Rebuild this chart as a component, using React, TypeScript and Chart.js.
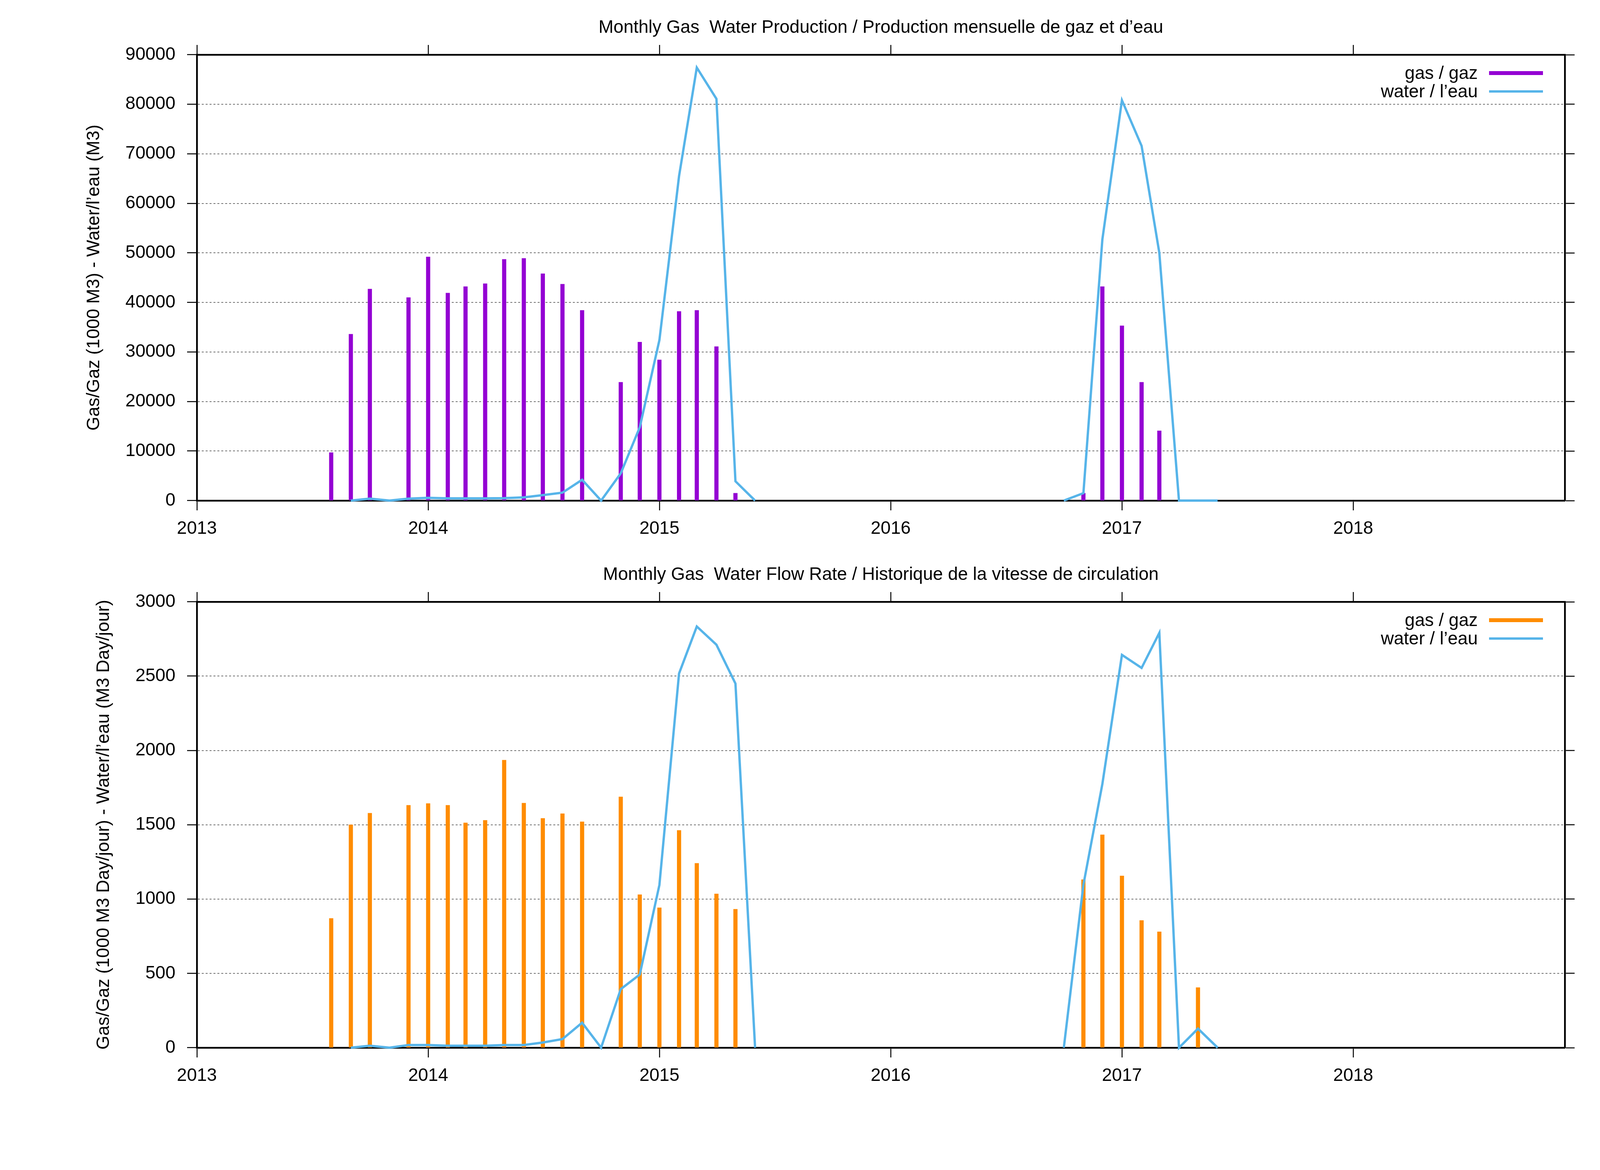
import React, { useEffect, useRef } from 'react';
import { Chart, registerables } from 'chart.js';

Chart.register(...registerables);

const FONT = "'Liberation Sans', Arial, sans-serif";
const FONT_SIZE = 46;

// months that appear in the well history (two production periods)
const months = [
  '2013-08', '2013-09', '2013-10', '2013-11', '2013-12',
  '2014-01', '2014-02', '2014-03', '2014-04', '2014-05', '2014-06',
  '2014-07', '2014-08', '2014-09', '2014-10', '2014-11', '2014-12',
  '2015-01', '2015-02', '2015-03', '2015-04', '2015-05', '2015-06',
  '2016-10', '2016-11', '2016-12',
  '2017-01', '2017-02', '2017-03', '2017-04', '2017-05', '2017-06',
];

// monthly production: gas (1000 m3), water (m3)
const gasProduction = [
  9700, 33600, 42700, null, 41000,
  49200, 41900, 43200, 43800, 48700, 48900,
  45800, 43700, 38400, null, 23900, 32000,
  28400, 38200, 38400, 31100, 1500, null,
  null, 1500, 43200,
  35300, 23900, 14100, null, null, null,
];
const waterProduction = [
  null, 0, 400, 0, 400,
  550, 450, 450, 450, 500, 650,
  1100, 1600, 4200, 0, 5500, 14800,
  32400, 65500, 87400, 81100, 3900, 0,
  0, 1500, 52700,
  80800, 71600, 50000, 0, 0, 0,
];

// monthly flow rate: gas (1000 m3/day), water (m3/day)
const gasRate = [
  870, 1500, 1578, null, 1631,
  1643, 1631, 1513, 1530, 1935, 1646,
  1543, 1575, 1520, null, 1688, 1030,
  942, 1462, 1241, 1035, 932, null,
  null, 1131, 1433,
  1156, 856, 780, null, 405, null,
];
const waterRate = [
  null, 0, 13, 0, 18,
  18, 13, 13, 13, 18, 18,
  35, 58, 168, 0, 394, 492,
  1095, 2518, 2834, 2711, 2450, 0,
  0, 1096, 1774,
  2643, 2555, 2791, 0, 128, 0,
];

const yearTicks = [2013, 2014, 2015, 2016, 2017, 2018];
const axisStart = '2013-01';
const axisEnd = '2018-12';

const productionTicks = [0, 10000, 20000, 30000, 40000, 50000, 60000, 70000, 80000, 90000];
const rateTicks = [0, 500, 1000, 1500, 2000, 2500, 3000];

const GAS_PURPLE = '#9400d3';
const GAS_ORANGE = '#ff8c00';
const WATER_BLUE = '#56b4e9';

const toYear = (m: string) => {
  const [y, mo] = m.split('-').map(Number);
  const start = Date.UTC(y, 0, 1);
  return y + (Date.UTC(y, mo - 1, 1) - start) / (Date.UTC(y + 1, 0, 1) - start);
};

const barPoints = (values: (number | null)[]) =>
  months
    .map((m, i) => ({ x: toYear(m), y: values[i] }))
    .filter((p) => p.y !== null);

// line points, broken where months are missing between the two periods
const linePoints = (values: (number | null)[]) => {
  const pts: { x: number; y: number | null }[] = [];
  months.forEach((m, i) => {
    const x = toYear(m);
    if (i > 0 && x - toYear(months[i - 1]) > 0.2) {
      pts.push({ x: (x + toYear(months[i - 1])) / 2, y: null });
    }
    pts.push({ x, y: values[i] });
  });
  return pts;
};

const legendPlugin = {
  id: 'gnuLegend',
  afterDatasetsDraw(chart: any) {
    const { ctx, chartArea } = chart;
    const items = chart.data.datasets.slice().sort((a: any, b: any) => b.order - a.order);
    ctx.save();
    ctx.font = `${FONT_SIZE}px ${FONT}`;
    ctx.fillStyle = '#000';
    ctx.textAlign = 'right';
    ctx.textBaseline = 'middle';
    items.forEach((ds: any, i: number) => {
      const y = chartArea.top + 47 + i * 47;
      ctx.fillText(ds.label, chartArea.right - 223, y + 2);
      ctx.strokeStyle = ds.type === 'bar' ? ds.backgroundColor : ds.borderColor;
      ctx.lineWidth = ds.type === 'bar' ? 10 : 6;
      ctx.beginPath();
      ctx.moveTo(chartArea.right - 194, y);
      ctx.lineTo(chartArea.right - 56, y);
      ctx.stroke();
    });
    ctx.restore();
  },
};

type PanelProps = {
  title: string;
  yTitle: string;
  gas: (number | null)[];
  water: (number | null)[];
  gasColor: string;
  yTicks: number[];
  titleCenter: number;
  height: number;
};

function Panel({ title, yTitle, gas, water, gasColor, yTicks, titleCenter, height }: PanelProps) {
  const canvasRef = useRef<HTMLCanvasElement | null>(null);

  useEffect(() => {
    const canvas = canvasRef.current;
    if (!canvas) return;

    const padLeft = titleCenter - (FONT_SIZE * 1.2) / 2;
    const xMin = toYear(axisStart);
    const xMax = toYear(axisEnd);
    const yMax = yTicks[yTicks.length - 1];
    const yStep = yTicks[1] - yTicks[0];

    const tickMarks = { tickLength: 25, tickWidth: 2.5, tickColor: '#000' };
    const frame = { display: true, width: 4.5, color: '#000' };
    const labelFont = { family: FONT, size: FONT_SIZE };

    const chart = new Chart(canvas, {
      type: 'line',
      data: {
        datasets: [
          {
            type: 'line',
            label: 'water / l\u2019eau',
            data: linePoints(water),
            borderColor: WATER_BLUE,
            borderWidth: 6,
            pointRadius: 0,
            tension: 0,
            spanGaps: false,
            clip: false,
            order: 0,
          },
          {
            type: 'bar',
            label: 'gas / gaz',
            data: barPoints(gas),
            backgroundColor: gasColor,
            borderWidth: 0,
            barThickness: 10,
            order: 1,
          },
        ] as any,
      },
      options: {
        animation: false,
        responsive: false,
        maintainAspectRatio: false,
        devicePixelRatio: 1,
        layout: { padding: { left: padLeft, right: 83, top: 44, bottom: 0 } },
        plugins: {
          legend: { display: false },
          tooltip: { enabled: false },
          title: {
            display: true,
            text: title,
            fullSize: false,
            color: '#000',
            font: { family: FONT, size: FONT_SIZE, weight: 'normal' },
            padding: { top: 0, bottom: 15.8 },
          },
        },
        scales: {
          x: {
            type: 'linear',
            position: 'bottom',
            min: xMin,
            max: xMax,
            offset: false,
            grid: { display: true, drawOnChartArea: false, offset: false, ...tickMarks },
            border: frame,
            ticks: {
              stepSize: 1,
              includeBounds: false,
              autoSkip: false,
              maxRotation: 0,
              padding: 20,
              color: '#000',
              font: labelFont,
              callback: (v: any) => (yearTicks.includes(Number(v)) ? String(v) : ''),
            },
            afterFit: (s: any) => {
              s.height = height - 1281;
            },
          },
          x2: {
            type: 'linear',
            position: 'top',
            min: xMin,
            max: xMax,
            offset: false,
            grid: { display: true, drawOnChartArea: false, offset: false, ...tickMarks },
            border: frame,
            ticks: { display: false, stepSize: 1, includeBounds: false },
            afterFit: (s: any) => {
              s.height = 25;
            },
          },
          y: {
            type: 'linear',
            position: 'left',
            min: 0,
            max: yMax,
            grid: {
              display: true,
              drawOnChartArea: true,
              color: 'rgba(0,0,0,0.75)',
              lineWidth: 1.5,
              ...tickMarks,
            },
            border: { ...frame, dash: [5, 5] },
            ticks: {
              stepSize: yStep,
              padding: 30,
              color: '#000',
              font: labelFont,
              callback: (v: any) => String(v),
            },
            title: {
              display: true,
              text: yTitle,
              color: '#000',
              font: labelFont,
              padding: 0,
            },
            afterFit: (s: any) => {
              s.width = 504 - padLeft;
            },
          },
          y2: {
            type: 'linear',
            position: 'right',
            min: 0,
            max: yMax,
            grid: { display: true, drawOnChartArea: false, ...tickMarks },
            border: frame,
            ticks: { display: false, stepSize: yStep },
            afterFit: (s: any) => {
              s.width = 25;
            },
          },
        },
      } as any,
      plugins: [legendPlugin],
    });

    return () => {
      chart.destroy();
    };
  }, []);

  return <canvas ref={canvasRef} width={4114} height={height} style={{ display: 'block' }} />;
}

export default function App() {
  useEffect(() => {
    document.body.style.margin = '0';
    document.body.style.overflow = 'hidden';
    document.body.style.background = '#fff';
  }, []);

  return (
    <div style={{ width: 4114, height: 2994, background: '#fff' }}>
      <Panel
        title={'Monthly Gas  Water Production / Production mensuelle de gaz et d\u2019eau'}
        yTitle={'Gas/Gaz (1000 M3) - Water/l\u2019eau (M3)'}
        gas={gasProduction}
        water={waterProduction}
        gasColor={GAS_PURPLE}
        yTicks={productionTicks}
        titleCenter={241}
        height={1400}
      />
      <Panel
        title={'Monthly Gas  Water Flow Rate / Historique de la vitesse de circulation'}
        yTitle={'Gas/Gaz (1000 M3 Day/jour) - Water/l\u2019eau (M3 Day/jour)'}
        gas={gasRate}
        water={waterRate}
        gasColor={GAS_ORANGE}
        yTicks={rateTicks}
        titleCenter={266}
        height={1594}
      />
    </div>
  );
}
